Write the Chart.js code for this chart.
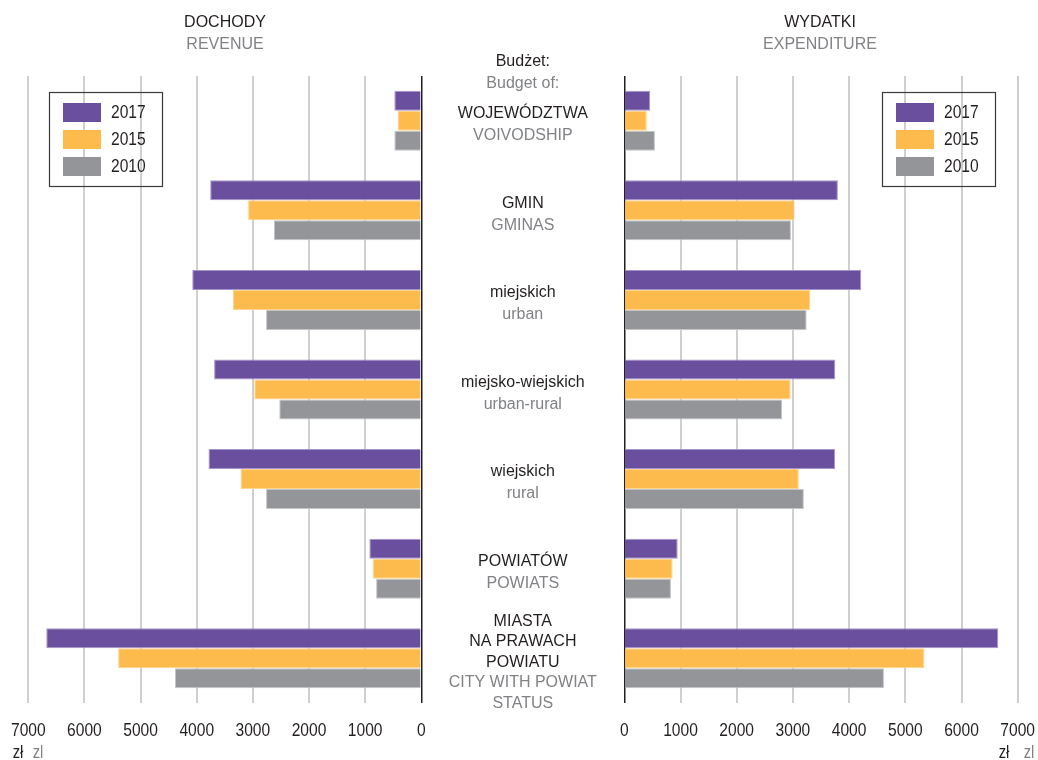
<!DOCTYPE html>
<html>
<head>
<meta charset="utf-8">
<script src="https://cdn.jsdelivr.net/npm/chart.js@4.4.1/dist/chart.umd.min.js"></script>
<style>
  html, body { margin: 0; padding: 0; background: #fff; }
  #wrap { position: relative; width: 1038px; height: 760px; }
  #wrap canvas { position: absolute; left: 0; top: 0; }
</style>
</head>
<body>
<div id="wrap">
  <canvas id="revenue" width="1038" height="760"></canvas>
  <canvas id="expenditure" width="1038" height="760"></canvas>
</div>
<script>
// budget categories (Polish name lines / English name lines)
const categories = ["WOJEWÓDZTWA", "GMIN", "miejskich", "miejsko-wiejskich", "wiejskich", "POWIATÓW", "MIASTA NA PRAWACH POWIATU"];
const labelsPl = [["WOJEWÓDZTWA"], ["GMIN"], ["miejskich"], ["miejsko-wiejskich"], ["wiejskich"], ["POWIATÓW"], ["MIASTA", "NA PRAWACH", "POWIATU"]];
const labelsEn = [["VOIVODSHIP"], ["GMINAS"], ["urban"], ["urban-rural"], ["rural"], ["POWIATS"], ["CITY WITH POWIAT", "STATUS"]];
const years = ["2017", "2015", "2010"];

// zł per capita
const revenue2017 = [480, 3760, 4080, 3690, 3790, 925, 6680];
const revenue2015 = [420, 3085, 3355, 2975, 3220, 865, 5400];
const revenue2010 = [480, 2625, 2765, 2530, 2765, 805, 4390];
const expenditure2017 = [460, 3800, 4215, 3755, 3750, 950, 6655];
const expenditure2015 = [400, 3030, 3310, 2960, 3105, 860, 5340];
const expenditure2010 = [545, 2965, 3245, 2810, 3195, 830, 4620];

const axisMax = 7000;
const axisStep = 1000;

const colors = ["#6b4f9f", "#fdbb4d", "#939598"];
const edges = ["#a494cc", "#fed58c", "#c4c5c7"];

const BLACK = "#231f20";
const GREY = "#808285";
const LABEL_FONT = "'Liberation Sans', Arial, sans-serif";

function put(ctx, s, x, y, color, font, align) {
    ctx.fillStyle = color;
    ctx.font = font;
    ctx.textAlign = align || "center";
    ctx.textBaseline = "middle";
    ctx.fillText(s, x, y);
}

// numbers in the original use a condensed face; squeeze the regular one
function putNarrow(ctx, s, x, y, color, size, align) {
    ctx.save();
    ctx.translate(x, y);
    ctx.scale(0.82, 1);
    put(ctx, s, 0, 0, color, size + "px " + LABEL_FONT, align);
    ctx.restore();
}

function drawLegend(chart, left) {
    const ctx = chart.ctx;
    ctx.save();
    ctx.strokeStyle = "#3a3a3a";
    ctx.lineWidth = 1.2;
    ctx.strokeRect(left + 0.5, 92.5, 113, 94);
    chart.data.datasets.forEach((ds, i) => {
        const y = 103 + i * 27;
        ctx.fillStyle = ds.backgroundColor;
        ctx.fillRect(left + 14, y, 38, 19);
        putNarrow(ctx, ds.label, left + 62, y + 10, BLACK, 19, "left");
    });
    ctx.restore();
}

function drawTicks(chart) {
    const scale = chart.scales.x;
    scale.ticks.forEach(t => {
        putNarrow(chart.ctx, String(t.value), scale.getPixelForValue(t.value), 731, BLACK, 19, "center");
    });
}

function makeDatasets(a, b, c) {
    return [a, b, c].map((d, i) => ({
        label: years[i],
        data: d,
        backgroundColor: colors[i],
        borderColor: edges[i],
        borderWidth: 1,
        categoryPercentage: 0.67,
        barPercentage: 1.0
    }));
}

function xScale(reverse) {
    return {
        type: "linear",
        min: 0,
        max: axisMax,
        reverse: reverse,
        afterFit: (scale) => { scale.height = 57; },
        ticks: { stepSize: axisStep, display: false },
        grid: {
            drawTicks: false,
            color: (c) => (c.tick && c.tick.value === 0 ? BLACK : "#cfcfcf"),
            lineWidth: (c) => (c.tick && c.tick.value === 0 ? 1.5 : 2)
        },
        border: { display: false }
    };
}

const revenueText = {
    id: "revenueText",
    afterDraw(chart) {
        const ctx = chart.ctx;
        const cx = 522.8;
        ctx.save();
        put(ctx, "DOCHODY", 225, 23, BLACK, "16px " + LABEL_FONT);
        put(ctx, "REVENUE", 225, 45, GREY, "16px " + LABEL_FONT);
        put(ctx, "Budżet:", cx, 62, BLACK, "16px " + LABEL_FONT);
        put(ctx, "Budget of:", cx, 84, GREY, "16px " + LABEL_FONT);
        const yScale = chart.scales.y;
        categories.forEach((name, i) => {
            const lines = labelsPl[i].map(s => [s, BLACK]).concat(labelsEn[i].map(s => [s, GREY]));
            const step = lines.length > 2 ? 20.5 : 22;
            const mid = yScale.getPixelForValue(i) + 4;
            const top = mid - step * (lines.length - 1) / 2;
            lines.forEach((l, k) => put(ctx, l[0], cx, top + k * step, l[1], "16px " + LABEL_FONT));
        });
        putNarrow(ctx, "zł", 18, 753, BLACK, 18, "center");
        putNarrow(ctx, "zl", 38, 753, GREY, 18, "center");
        ctx.restore();
        drawTicks(chart);
        drawLegend(chart, 49);
    }
};

const expenditureText = {
    id: "expenditureText",
    afterDraw(chart) {
        const ctx = chart.ctx;
        ctx.save();
        put(ctx, "WYDATKI", 820, 23, BLACK, "16px " + LABEL_FONT);
        put(ctx, "EXPENDITURE", 820, 45, GREY, "16px " + LABEL_FONT);
        putNarrow(ctx, "zł", 1004, 753, BLACK, 18, "center");
        putNarrow(ctx, "zl", 1029, 753, GREY, 18, "center");
        ctx.restore();
        drawTicks(chart);
        drawLegend(chart, 882);
    }
};

function buildChart(id, datasets, reverse, padding, plugin) {
    return new Chart(document.getElementById(id), {
        type: "bar",
        data: { labels: categories, datasets: datasets },
        options: {
            indexAxis: "y",
            responsive: false,
            animation: false,
            layout: { padding: padding },
            plugins: { legend: { display: false }, tooltip: { enabled: false } },
            scales: {
                x: xScale(reverse),
                y: { display: false }
            }
        },
        plugins: [plugin]
    });
}

buildChart("revenue", makeDatasets(revenue2017, revenue2015, revenue2010), true,
    { left: 28.3, right: 1038 - 421.3, top: 76, bottom: 0 }, revenueText);
buildChart("expenditure", makeDatasets(expenditure2017, expenditure2015, expenditure2010), false,
    { left: 624.3, right: 1038 - 1017.7, top: 76, bottom: 0 }, expenditureText);
</script>
</body>
</html>
